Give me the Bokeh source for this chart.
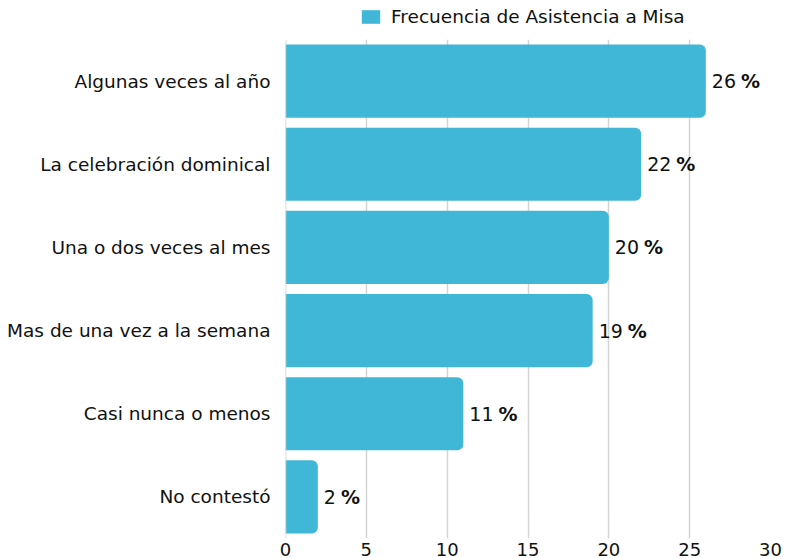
from bokeh.plotting import figure
from bokeh.models import ColumnDataSource, FactorRange, Legend, LegendItem, Span
from bokeh.layouts import column
from bokeh.core.properties import value
from bokeh.embed import file_html
from bokeh.resources import INLINE

categories = ["Algunas veces al año", "La celebración dominical", "Una o dos veces al mes",
              "Mas de una vez a la semana", "Casi nunca o menos", "No contestó"]
values = [26, 22, 20, 19, 11, 2]
series_name = "Frecuencia de Asistencia a Misa"
x_ticks = [0, 5, 10, 15, 20, 25, 30]

FONT = "DejaVu Sans"
BAR = "#41b7d7"

src = ColumnDataSource(dict(cat=categories, val=values,
                            num=[str(v) for v in values],
                            pct=["%"] * len(values),
                            pct_off=[6 + 12.1 * len(str(v)) + 5 for v in values]))

# ---- legend strip (top); its frame is aligned with the chart frame ----
lf = figure(width=785, height=39, output_backend="svg", toolbar_location=None,
            title=None, x_range=(0, 1), y_range=(0, 1),
            x_axis_location=None, y_axis_location=None,
            min_border_left=285, min_border_right=15, min_border_top=0, min_border_bottom=0)
lf.outline_line_color = None
lf.grid.grid_line_color = None
# zero-width bar: only serves as the legend swatch
lr = lf.hbar(y=[0], right=[0], left=0, height=1, fill_color=BAR, line_color=None)
legend = Legend(items=[LegendItem(label=series_name, renderers=[lr])],
                orientation="horizontal", location=(74, 12),
                glyph_width=23, glyph_height=17, label_text_font=FONT,
                label_text_font_size="18.5px", label_text_color="#111111",
                border_line_color=None, background_fill_alpha=0,
                padding=0, margin=0, spacing=0, label_standoff=9,
                label_height=17)
lf.add_layout(legend, "center")

# ---- main chart ----
p = figure(width=785, height=519, output_backend="svg", toolbar_location=None,
           title=None,
           y_range=FactorRange(*categories[::-1], range_padding=0),
           x_range=(0, 30), min_border_left=285, min_border_right=15,
           min_border_top=0, min_border_bottom=0)
p.outline_line_color = None

r = p.hbar(y="cat", right="val", left=0, height=0.88, source=src,
           fill_color=BAR, line_color=None, border_radius=(0, 6, 6, 0))

p.add_layout(Span(location=0, dimension="height", line_color="#cfcfcf",
                  line_width=1.5))

p.text(x="val", y="cat", text="num", source=src, x_offset=6,
       text_align="left", text_baseline="middle", text_font=value(FONT),
       text_font_size="19px", text_color="#111111")
p.text(x="val", y="cat", text="pct", source=src, x_offset="pct_off",
       text_align="left", text_baseline="middle", text_font=value(FONT),
       text_font_size="19px", text_color="#111111", text_font_style="bold")

p.xaxis.ticker = x_ticks
p.xaxis.axis_line_color = None
p.xaxis.major_tick_line_color = None
p.xaxis.minor_tick_line_color = None
p.xaxis.major_tick_out = 0
p.xaxis.major_tick_in = 0
p.xaxis.major_label_standoff = 4
p.xaxis.major_label_text_font = FONT
p.xaxis.major_label_text_font_size = "18px"
p.xaxis.major_label_text_color = "#111111"

p.yaxis.axis_line_color = None
p.yaxis.major_tick_line_color = None
p.yaxis.minor_tick_line_color = None
p.yaxis.major_tick_out = 0
p.yaxis.major_tick_in = 0
p.yaxis.major_label_standoff = 15
p.yaxis.major_label_text_font = FONT
p.yaxis.major_label_text_font_size = "18.5px"
p.yaxis.major_label_text_color = "#111111"

p.xgrid.grid_line_color = "#d4d4d4"
p.xgrid.grid_line_width = 1.5
p.ygrid.grid_line_color = None

layout = column(lf, p, spacing=0)
open("out.html", "w").write(file_html(layout, INLINE))
